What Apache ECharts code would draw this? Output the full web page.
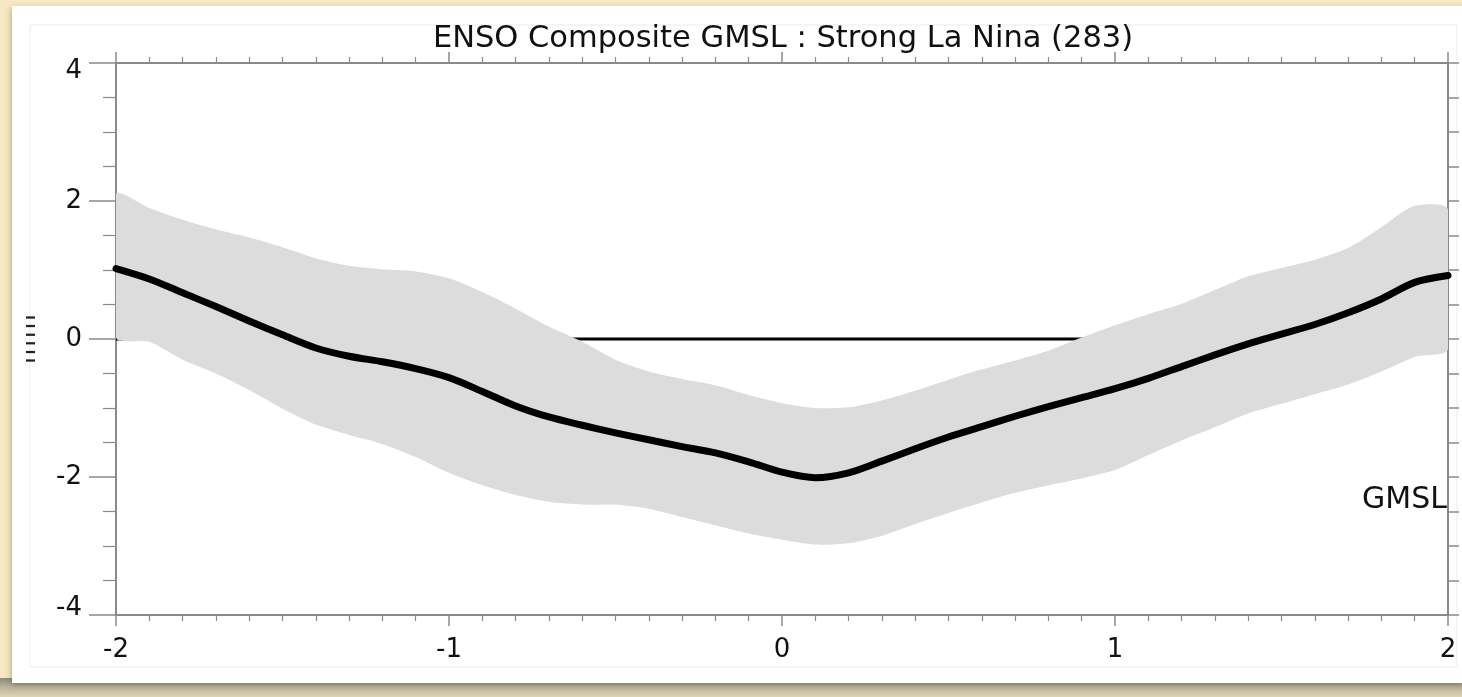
<!DOCTYPE html>
<html>
<head>
<meta charset="utf-8">
<script src="https://cdn.jsdelivr.net/npm/echarts@6/dist/echarts.min.js"></script>
<style>
html,body{margin:0;padding:0;background:#f6e9c4;}
#chart{width:1462px;height:697px;}
</style>
</head>
<body>
<div id="chart"></div>
<script>
// ---- data ----
var xValues = [-2.0,-1.9,-1.8,-1.7,-1.6,-1.5,-1.4,-1.3,-1.2,-1.1,-1.0,-0.9,-0.8,-0.7,-0.6,-0.5,-0.4,-0.3,-0.2,-0.1,0.0,
               0.1,0.2,0.3,0.4,0.5,0.6,0.7,0.8,0.9,1.0,1.1,1.2,1.3,1.4,1.5,1.6,1.7,1.8,1.9,2.0];
var meanGMSL = [1.02,0.87,0.67,0.47,0.26,0.06,-0.13,-0.25,-0.33,-0.43,-0.56,-0.76,-0.97,-1.13,-1.25,-1.36,-1.46,-1.56,-1.65,-1.78,-1.93,
                -2.01,-1.94,-1.77,-1.59,-1.42,-1.27,-1.12,-0.98,-0.85,-0.72,-0.57,-0.40,-0.23,-0.07,0.07,0.21,0.38,0.58,0.82,0.92];
var upperGMSL = [2.10,1.90,1.73,1.59,1.47,1.33,1.17,1.06,1.01,0.98,0.88,0.68,0.44,0.18,-0.04,-0.30,-0.47,-0.58,-0.67,-0.81,-0.93,
                 -1.00,-0.99,-0.89,-0.75,-0.59,-0.44,-0.31,-0.17,0.02,0.20,0.36,0.51,0.71,0.91,1.03,1.15,1.32,1.62,1.93,1.88];
var lowerGMSL = [0.02,-0.04,-0.30,-0.50,-0.74,-1.01,-1.24,-1.39,-1.52,-1.71,-1.94,-2.12,-2.26,-2.36,-2.40,-2.40,-2.46,-2.58,-2.70,-2.82,-2.91,
                 -2.98,-2.96,-2.85,-2.68,-2.52,-2.37,-2.23,-2.12,-2.02,-1.90,-1.68,-1.47,-1.28,-1.08,-0.94,-0.80,-0.66,-0.47,-0.26,-0.15];
var zeroLineX = [-2, 2];
var zeroLineY = [0, 0];
var titleText = 'ENSO Composite GMSL : Strong La Nina (283)';
var seriesLabel = 'GMSL';
var yAxisName = 'I I I I I I';

// ---- build ----
function pairs(xs, ys){ return xs.map(function(x,i){ return [x, ys[i]]; }); }
var bandData = xValues.map(function(x,i){ return [x, lowerGMSL[i], upperGMSL[i]]; });

var chart = echarts.init(document.getElementById('chart'), null, {renderer:'canvas'});
var axisGrey = '#8a8a8a';
var labelFont = {fontFamily:'DejaVu Sans', fontSize:26, color:'#111'};

function renderBand(params, api){
  if (params.dataIndex !== 0) return null;
  var pts = [];
  for (var i = 0; i < xValues.length; i++) pts.push(api.coord([xValues[i], upperGMSL[i]]));
  for (var j = xValues.length - 1; j >= 0; j--) pts.push(api.coord([xValues[j], lowerGMSL[j]]));
  var cs = params.coordSys;
  return {
    type:'polygon',
    shape:{points:pts, smooth:0.25, smoothConstraint:[[cs.x, cs.y],[cs.x + cs.width, cs.y + cs.height]]},
    style:{fill:'#dcdcdc', stroke:null}
  };
}

var option = {
  backgroundColor: '#f6e9c4',
  animation: false,
  graphic: [
    {type:'rect', z:-10, shape:{x:0,y:678,width:1462,height:19},
     style:{fill:new echarts.graphic.LinearGradient(0,0,0,1,[{offset:0,color:'#8e8a78'},{offset:0.45,color:'#b9b297'},{offset:1,color:'#ddd3b0'}])}},
    {type:'rect', z:-9, shape:{x:12,y:6,width:1452,height:677},
     style:{fill:'#ffffff', shadowColor:'rgba(60,50,20,0.35)', shadowBlur:6, shadowOffsetX:-1, shadowOffsetY:2}},
    {type:'rect', z:-8, shape:{x:30,y:25,width:1427,height:642},
     style:{fill:'none', stroke:'#ebebeb', lineWidth:1}},
    {type:'text', z:10, x:783, y:39,
     style:{text:titleText, fontFamily:'DejaVu Sans', fontSize:30.5, fill:'#111', textAlign:'center', textVerticalAlign:'middle'}},
    {type:'text', z:10, x:1447, y:500,
     style:{text:seriesLabel, fontFamily:'DejaVu Sans', fontSize:30, fill:'#111', textAlign:'right', textVerticalAlign:'middle'}}
  ],
  grid: {left:116, right:14, top:63, bottom:82, containLabel:false},
  xAxis: [
    {type:'value', position:'bottom', min:-2, max:2, interval:1,
     axisLine:{show:true, onZero:false, lineStyle:{color:axisGrey, width:2}},
     axisTick:{show:true, inside:false, length:11, lineStyle:{color:axisGrey, width:1.5}},
     minorTick:{show:true, splitNumber:10, length:6, lineStyle:{color:axisGrey, width:1.2}},
     axisLabel:Object.assign({margin:22}, labelFont),
     splitLine:{show:false}, minorSplitLine:{show:false}},
    {type:'value', position:'top', min:-2, max:2, interval:1,
     axisLine:{show:true, onZero:false, lineStyle:{color:axisGrey, width:2}},
     axisTick:{show:true, inside:false, length:11, lineStyle:{color:axisGrey, width:1.5}},
     minorTick:{show:true, splitNumber:10, length:6, lineStyle:{color:axisGrey, width:1.2}},
     axisLabel:{show:false}, splitLine:{show:false}}
  ],
  yAxis: [
    {type:'value', position:'left', min:-4, max:4, interval:2,
     name:yAxisName, nameLocation:'middle', nameRotate:90, nameGap:78,
     nameTextStyle:{fontFamily:'DejaVu Sans', fontSize:12, fontWeight:'bold', color:'#222'},
     axisLine:{show:true, onZero:false, lineStyle:{color:axisGrey, width:2}},
     axisTick:{show:true, inside:false, length:27, lineStyle:{color:axisGrey, width:1.5}},
     minorTick:{show:true, splitNumber:4, length:13, lineStyle:{color:axisGrey, width:1.2}},
     axisLabel:Object.assign({margin:34,
       formatter:function(v){ if(v===4) return '{hi|4}'; if(v===-4) return '{lo|-4}'; return String(v); },
       rich:{hi:{fontFamily:'DejaVu Sans', fontSize:26, color:'#111', padding:[16,0,0,0]},
             lo:{fontFamily:'DejaVu Sans', fontSize:26, color:'#111', padding:[0,0,14,0]}}
     }, labelFont),
     splitLine:{show:false}, minorSplitLine:{show:false}},
    {type:'value', position:'right', min:-4, max:4, interval:0.5,
     axisLine:{show:true, onZero:false, lineStyle:{color:axisGrey, width:2}},
     axisTick:{show:true, inside:false, length:11, lineStyle:{color:axisGrey, width:1.5}},
     axisLabel:{show:false}, splitLine:{show:false}}
  ],
  series: [
    {name:'zero', type:'line', data:pairs(zeroLineX, zeroLineY), symbol:'none', z:1,
     lineStyle:{color:'#000', width:3}, silent:true},
    {name:'band', type:'custom', data:bandData, encode:{x:0, y:[1,2]}, renderItem:renderBand, z:2, silent:true, clip:true},
    {name:seriesLabel, type:'line', data:pairs(xValues, meanGMSL), symbol:'none', smooth:0.3, z:3,
     lineStyle:{color:'#000', width:7, cap:'round', join:'round'}, silent:true}
  ]
};
chart.setOption(option);
</script>
</body>
</html>
